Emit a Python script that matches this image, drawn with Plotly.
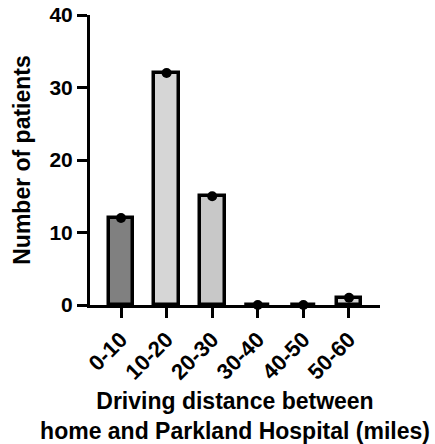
import plotly.graph_objects as go

categories = ["0-10", "10-20", "20-30", "30-40", "40-50", "50-60"]
patients = [12, 32, 15, 0, 0, 1]
bar_colors = ["#808080", "#d6d6d6", "#c8c8c8", "#d6d6d6", "#d6d6d6", "#d6d6d6"]
y_ticks = [0, 10, 20, 30, 40]

FONT = "Liberation Sans, Arial, sans-serif"

fig = go.Figure()
fig.add_trace(go.Bar(
    x=list(range(len(categories))), y=patients,
    width=0.54,
    marker=dict(color=bar_colors, line=dict(color="black", width=3.5)),
    showlegend=False,
))
fig.add_trace(go.Scatter(
    x=list(range(len(categories))), y=patients,
    mode="markers",
    marker=dict(color="black", size=10),
    cliponaxis=False,
    showlegend=False,
))

fig.update_layout(
    width=435, height=444,
    margin=dict(l=90, r=55, t=15, b=139),
    plot_bgcolor="white", paper_bgcolor="white",
    font=dict(family=FONT, color="black"),
    xaxis=dict(
        range=[-0.68, 5.68],
        automargin=False,
        tickmode="array", tickvals=list(range(len(categories))), ticktext=categories,
        tickangle=-45,
        ticks="outside", ticklen=10, tickwidth=3, tickcolor="black",
        showline=True, linewidth=3, linecolor="black",
        showgrid=False, zeroline=False,
        tickfont=dict(family=FONT, size=22, weight="bold"),
        title=dict(text="Driving distance between<br>home and Parkland Hospital (miles)",
                   font=dict(family=FONT, size=23, weight="bold"), standoff=14),
    ),
    yaxis=dict(
        range=[0, 40],
        automargin=False,
        tickmode="array", tickvals=y_ticks,
        ticks="outside", ticklen=10, tickwidth=3, tickcolor="black",
        showline=True, linewidth=3, linecolor="black",
        showgrid=False, zeroline=False,
        tickfont=dict(family=FONT, size=21, weight="bold"),
        title=dict(text="Number of patients",
                   font=dict(family=FONT, size=23, weight="bold"), standoff=13),
    ),
    bargap=0,
)

fig.write_html("out.html",
               config={"displayModeBar": False},
               post_script="document.body.style.margin='0px';document.body.style.overflow='hidden';")
